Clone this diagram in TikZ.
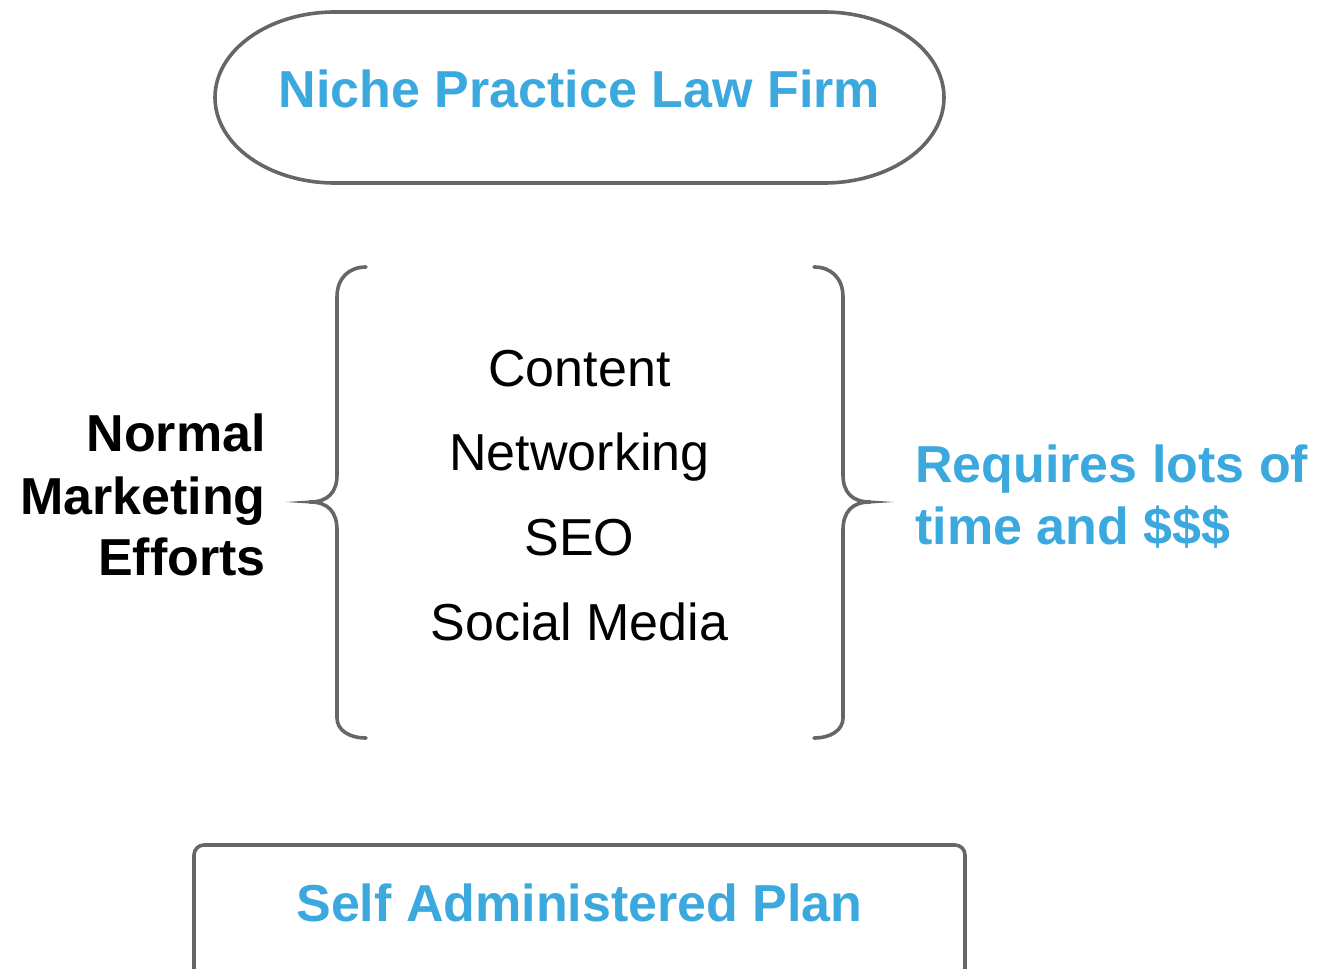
\documentclass[tikz,border=0pt]{standalone}
\usepackage{fontspec}
\setmainfont{Liberation Sans}
\definecolor{lineGray}{RGB}{102,102,102}
\definecolor{titleBlue}{RGB}{59,168,222}
\begin{document}
\begin{tikzpicture}[x=0.75pt, y=0.75pt,
  outline/.style={draw=lineGray, line width=2.7pt, line cap=round, line join=round},
  tipfill/.style={fill=lineGray},
  boldfont/.style={font=\fontsize{39}{46.5}\selectfont\bfseries, inner sep=0pt},
  bluebold/.style={boldfont, text=titleBlue},
  blackbold/.style={boldfont, text=black},
  listfont/.style={font=\fontsize{39}{63.75}\selectfont, inner sep=0pt, text=black}]
\useasboundingbox (0,0) rectangle (1318,-969);
\clip (0,0) rectangle (1318,-969);

% Top: stadium-shaped title
\draw[outline] (335,-12) -- (824,-12)
  arc[start angle=90, end angle=-90, x radius=120, y radius=85.5]
  -- (335,-183)
  arc[start angle=270, end angle=90, x radius=120, y radius=85.5] -- cycle;
\node[bluebold, anchor=base] (firm) at (579.5,-108) {Niche Practice Law Firm};

% Middle: list of efforts between braces (base anchor = last line)
\node[listfont, align=center, anchor=base] (efforts) at (579.5,-641)
  {Content\\Networking\\SEO\\Social Media};

% Left brace, tapering to its point
\draw[outline] (366,-267) .. controls (349,-267) and (337,-278) .. (337,-297)
  -- (337,-475) .. controls (337,-492) and (328,-502) .. (310,-502)
  .. controls (328,-502) and (337,-512) .. (337,-530)
  -- (337,-718) .. controls (337,-730) and (349,-738) .. (366,-738);
\fill[tipfill] (312,-500.3) -- (286,-502) -- (312,-503.7) -- cycle;

% Right brace, tapering to its point
\draw[outline] (814,-267) .. controls (831,-267) and (843,-278) .. (843,-297)
  -- (843,-475) .. controls (843,-492) and (852,-502) .. (870,-502)
  .. controls (852,-502) and (843,-512) .. (843,-530)
  -- (843,-718) .. controls (843,-730) and (831,-738) .. (814,-738);
\fill[tipfill] (868,-500.3) -- (894,-502) -- (868,-503.7) -- cycle;

\node[blackbold, align=right, anchor=base east] (normal) at (266,-576)
  {Normal\\Marketing\\Efforts};
\node[bluebold, align=left, anchor=base west] (cost) at (915,-545)
  {Requires lots of\\time and \$\$\$};

% Bottom: plan box
\draw[outline, rounded corners=7.5pt] (194,-845) rectangle (965,-990);
\node[bluebold, anchor=base] (plan) at (579.5,-921) {Self Administered Plan};
\end{tikzpicture}
\end{document}
